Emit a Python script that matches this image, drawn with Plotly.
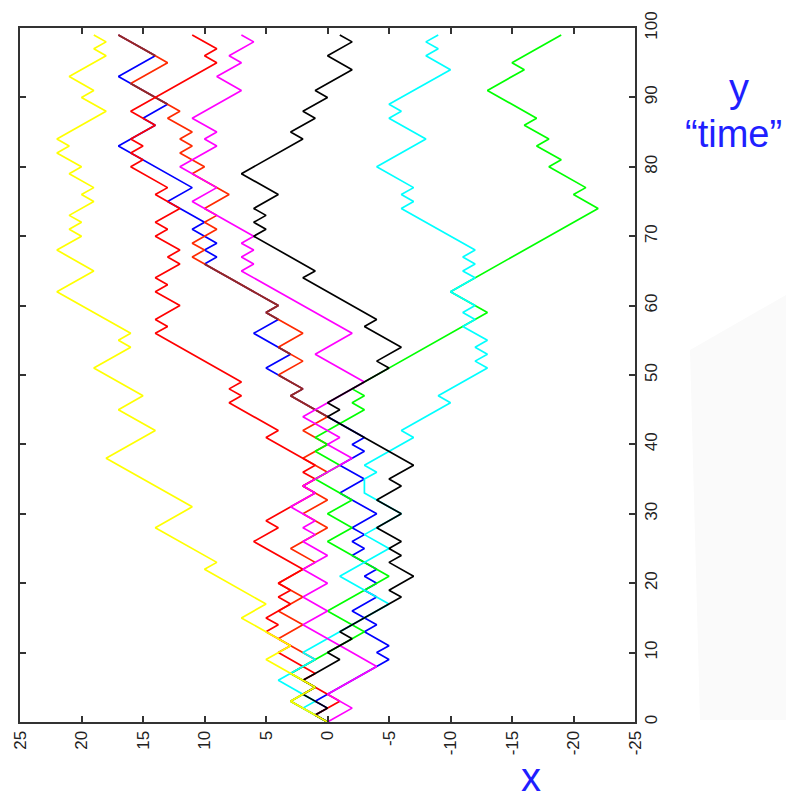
import numpy as np
import plotly.graph_objects as go

# Turning points (time step, position) of each random walk
yellow_t = [0,3,5,9,11,13,15,17,22,23,28,31,38,42,45,47,51,54,55,56,62,65,68,70,71,72,73,75,76,77,79,80,82,83,84,88,90,91,93,96,97,98,99]
yellow_x = [0,3,1,5,3,5,7,5,10,9,14,11,18,14,17,15,19,16,17,16,22,19,22,20,21,20,21,19,20,19,21,20,22,21,22,18,20,19,21,18,19,18,19]

green_t = [0,3,5,7,13,14,16,19,21,26,28,30,32,35,37,39,40,41,42,45,46,47,48,49,51,59,62,74,76,77,80,81,83,84,86,87,91,94,95,99]
green_x = [0,3,1,3,-3,-2,0,-3,-5,0,-2,0,-2,1,-1,1,0,1,0,-3,-2,-3,-2,-3,-5,-13,-10,-22,-20,-21,-18,-19,-17,-18,-16,-17,-13,-16,-15,-19]

black_t = [0,1,2,4,5,6,7,9,10,12,13,18,19,21,23,24,25,26,28,30,32,34,35,37,44,45,46,51,52,54,57,58,64,65,70,71,72,73,74,76,79,84,85,87,88,90,91,92,94,96,98,99]
black_x = [0,1,0,2,1,2,1,-1,0,-2,-1,-6,-5,-7,-5,-6,-5,-6,-4,-6,-4,-6,-5,-7,0,-1,0,-5,-4,-6,-3,-4,2,1,6,5,6,5,6,4,7,2,3,1,2,0,1,0,-2,0,-2,-1]

cyan_t = [0,2,3,6,9,10,17,21,25,27,30,33,35,36,37,41,42,46,47,50,51,52,53,54,55,57,58,59,60,62,64,65,66,67,68,74,75,76,77,80,84,87,88,89,94,96,97,98,99]
cyan_x = [0,2,1,4,1,2,-5,-1,-5,-3,-6,-3,-3,-4,-3,-7,-6,-10,-9,-12,-13,-12,-13,-12,-13,-11,-12,-11,-12,-10,-12,-11,-12,-11,-12,-6,-7,-6,-7,-4,-8,-5,-6,-5,-10,-8,-9,-8,-9]

magenta_t = [0,2,4,8,10,14,16,18,20,22,24,26,27,28,29,31,33,34,38,40,41,44,49,53,56,58,65,66,67,68,69,70,75,77,80,83,84,85,87,91,93,95,96,98,99]
magenta_x = [0,-2,0,-4,-2,2,0,2,0,2,0,2,1,2,1,3,1,2,-2,0,-1,2,-3,1,-2,0,7,6,7,6,7,6,11,9,12,9,10,9,11,7,9,7,8,6,7]

blue_t = [0,1,2,3,4,9,10,11,13,14,16,18,19,20,21,22,24,25,26,27,28,30,32,33,35,37,39,40,41,44,47,48,50,51,53,54,56,58,59,60,66,67,68,69,71,72,75,77,83,86,87,89,93,96,99]
blue_x = [0,1,0,1,0,-5,-4,-5,-3,-4,-2,-4,-3,-4,-3,-4,-2,-3,-2,-3,-2,-4,-2,-1,-3,-1,-3,-2,-3,0,3,2,4,5,3,4,6,4,5,4,10,9,10,9,11,10,13,11,17,14,15,13,17,14,17]

red_t = [0,1,3,6,7,10,11,13,14,15,17,18,19,20,22,26,28,29,33,34,35,36,37,41,42,46,47,48,49,54,56,57,58,60,62,63,64,66,67,68,70,71,72,74,76,77,78,80,81,82,83,84,86,88,91,95,96,97,99]
red_x = [0,1,-1,2,1,4,3,5,4,5,3,4,3,4,2,6,4,5,1,2,1,2,1,5,4,8,7,8,7,12,14,13,14,12,14,13,14,12,13,12,14,13,14,12,14,13,14,16,15,16,15,16,14,16,13,9,10,9,11]

red2_t = [0,3,5,7,9,12,14,16,18,20,23,25,28,30,32,34,36,38,40,42,44,47,48,50,52,54,56,58,59,60,66,67,68,69,70,71,72,73,74,75,76,79,80,82,83,84,85,87,88,92,95,96,99]
red2_x = [0,3,1,3,1,4,2,4,2,4,1,3,0,2,0,2,0,2,0,2,0,3,2,4,2,4,2,4,5,4,10,11,10,11,10,9,10,9,10,9,8,11,10,12,11,12,11,13,12,16,13,14,17]

x_ticks = [25, 20, 15, 10, 5, 0, -5, -10, -15, -20, -25]
t_ticks = [0, 10, 20, 30, 40, 50, 60, 70, 80, 90, 100]


def per_step(ts, xs):
    steps = np.arange(ts[0], ts[-1] + 1)
    return steps, np.interp(steps, ts, xs)


# stretches where the second red walk runs on top of the blue walk look dark brown
bt, bx = per_step(blue_t, blue_x)
rt, rx = per_step(red2_t, red2_x)
ov_t, ov_x = [], []
for k in range(len(bt) - 1):
    if bx[k] == rx[k] and bx[k + 1] == rx[k + 1]:
        ov_t += [bt[k], bt[k + 1], None]
        ov_x += [bx[k], bx[k + 1], None]

walks = [
    (blue_t, blue_x, "#0000ff"),
    (red2_t, red2_x, "#ff2a00"),
    (ov_t, ov_x, "#8b2a2a"),
    (red_t, red_x, "#ff0000"),
    (green_t, green_x, "#00ff00"),
    (cyan_t, cyan_x, "#00ffff"),
    (magenta_t, magenta_x, "#ff00ff"),
    (black_t, black_x, "#000000"),
    (yellow_t, yellow_x, "#ffff00"),
]

fig = go.Figure()
for t, x, c in walks:
    fig.add_trace(go.Scatter(x=x, y=t, mode="lines", line=dict(color=c, width=1.7),
                             showlegend=False, hoverinfo="skip", connectgaps=False))

axis_common = dict(showgrid=False, zeroline=False, showline=True, linecolor="#333333",
                   linewidth=2, mirror="allticks", ticks="inside", ticklen=6,
                   tickwidth=2, tickcolor="#333333", tickangle=-90, automargin=False,
                   tickfont=dict(family="Liberation Sans, Arial", size=17, color="#222222"))

# the page adds an 8 px body margin, so the figure is drawn smaller to avoid scrolling
OFF = 8
W, H = 794 - 2 * OFF, 808 - 2 * OFF
l, t = 20 - OFF, 28 - OFF
r, b = W - (635 - OFF), H - (722 - OFF)
fig.update_layout(
    width=W, height=H,
    margin=dict(l=l, r=r, t=t, b=b),
    paper_bgcolor="white", plot_bgcolor="white",
    xaxis=dict(range=[25, -25], tickvals=x_ticks, ticktext=[str(v) for v in x_ticks], **axis_common),
    yaxis=dict(range=[0, 100], side="right", tickvals=t_ticks, ticktext=[str(v) for v in t_ticks], **axis_common),
)

pw, ph = W - l - r, H - t - b


def to_paper(px, py):
    return (px - OFF - l) / pw, (H - b - (py - OFF)) / ph


anns = []
for txt, px, py, fs in [("y", 739, 88, 40), ("“time”", 733, 134, 38)]:
    ax_, ay_ = to_paper(px, py)
    anns.append(dict(text=txt, x=ax_, y=ay_, xref="paper", yref="paper",
                     showarrow=False, xanchor="center", yanchor="middle",
                     font=dict(family="Liberation Sans, Arial", size=fs, color="#1f1fff")))
# "x" sits at the very bottom edge of the picture
ax_, _ = to_paper(531, 0)
anns.append(dict(text="x", x=ax_, y=-b / ph, xref="paper", yref="paper",
                 showarrow=False, xanchor="center", yanchor="bottom", borderpad=0,
                 font=dict(family="Liberation Sans, Arial", size=40, color="#1f1fff")))

# very faint light patch on the right of the slide background
x0, y0 = to_paper(690, 350)
x1, y1 = to_paper(786, 295)
x2, y2 = to_paper(786, 720)
x3, y3 = to_paper(700, 720)
fig.add_shape(type="path", xref="paper", yref="paper", layer="below",
              path=f"M {x0} {y0} L {x1} {y1} L {x2} {y2} L {x3} {y3} Z",
              fillcolor="#fafafa", line=dict(width=0))
fig.update_layout(annotations=anns)

fig.write_html("out.html")
